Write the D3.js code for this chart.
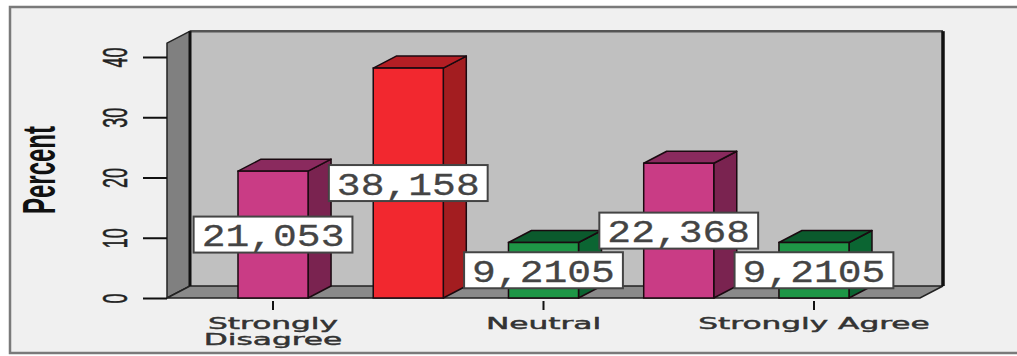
<!DOCTYPE html>
<html>
<head>
<meta charset="utf-8">
<script src="https://cdn.jsdelivr.net/npm/d3@7"></script>
<style>
  html, body { margin: 0; padding: 0; background: #ffffff; }
  svg { display: block; }
</style>
</head>
<body>
<svg id="chart" width="1017" height="356"></svg>
<script>
// Response categories and their share of respondents (%)
const categories = ["Strongly Disagree", "Disagree", "Neutral", "Agree", "Strongly Agree"];
const percents = [21.053, 38.158, 9.2105, 22.368, 9.2105];
// Categories labelled on the horizontal axis, with their line breaks
const axisCategories = ["Strongly Disagree", "Neutral", "Strongly Agree"];
const axisLabelLines = [["Strongly", "Disagree"], ["Neutral"], ["Strongly Agree"]];
const yTicks = [0, 10, 20, 30, 40];

// Bar colour sets: front, side, top
const palette = {
  magenta: ["#c93c85", "#7a2350", "#8a2a5e"],
  red:     ["#f2282f", "#a31d20", "#b41e24"],
  green:   ["#1e9646", "#0b6532", "#0b5a2d"]
};
const barColours = ["magenta", "red", "green", "magenta", "green"];

const svg = d3.select("#chart");

// decimal comma number format
const locale = d3.formatLocale({ decimal: ",", thousands: ".", grouping: [3], currency: ["", ""] });
const fmt = locale.format(".5r");

// outer panel
svg.append("rect").attr("x", 10).attr("y", 7).attr("width", 1040).attr("height", 346)
  .attr("fill", "#f0f0f0").attr("stroke", "#7a7a7a").attr("stroke-width", 2.5);

// scales (front plane)
const x = d3.scaleBand().domain(categories).range([167, 920])
  .paddingInner(0.482).paddingOuter(0.525);
const y = d3.scaleLinear().domain([0, 40]).range([298, 57]);
const yMax = 42.3;
const dx = 23, dy = -12;   // depth offset of the 3D box

const x0 = x.range()[0], x1 = x.range()[1];
const yb = y(0), yt = y(yMax);

const walls = svg.append("g");
// back wall
walls.append("rect").attr("x", x0 + dx).attr("y", yt + dy)
  .attr("width", x1 - x0).attr("height", yb - yt)
  .attr("fill", "#c0c0c0");
// left wall
walls.append("polygon")
  .attr("points", [[x0, yt], [x0 + dx, yt + dy], [x0 + dx, yb + dy], [x0, yb]].join(" "))
  .attr("fill", "#808080").attr("stroke", "#222").attr("stroke-width", 1.5);
// floor
walls.append("polygon")
  .attr("points", [[x0, yb], [x0 + dx, yb + dy], [x1 + dx, yb + dy], [x1, yb]].join(" "))
  .attr("fill", "#8a8a8a").attr("stroke", "#222").attr("stroke-width", 1.5);
// back wall edges
walls.append("line").attr("x1", x0 + dx).attr("x2", x1 + dx).attr("y1", yt + dy).attr("y2", yt + dy)
  .attr("stroke", "#555").attr("stroke-width", 2.5);
walls.append("line").attr("x1", x0 + dx).attr("x2", x0 + dx).attr("y1", yt + dy).attr("y2", yb + dy)
  .attr("stroke", "#111").attr("stroke-width", 3);
walls.append("line").attr("x1", x1 + dx).attr("x2", x1 + dx).attr("y1", yt + dy).attr("y2", yb + dy)
  .attr("stroke", "#111").attr("stroke-width", 3.5);

// y axis
const yAxis = svg.append("g").attr("transform", `translate(${x0},0)`)
  .call(d3.axisLeft(y).tickValues(yTicks).tickSize(24));
yAxis.select(".domain").remove();
yAxis.selectAll(".tick line").attr("stroke", "#111").attr("stroke-width", 2);
yAxis.selectAll(".tick text")
  .attr("x", null).attr("dy", null)
  .attr("text-anchor", "middle")
  .attr("transform", "translate(-40,0) scale(1.9,1) rotate(-90)")
  .attr("font-family", "'Liberation Sans', Arial, sans-serif")
  .attr("font-size", 18).attr("fill", "#222")
  .attr("stroke", "#222").attr("stroke-width", 0.3);

// y axis title
svg.append("text")
  .attr("transform", "translate(55,170) scale(1.9,1) rotate(-90)")
  .attr("text-anchor", "middle")
  .attr("font-family", "'Liberation Sans', Arial, sans-serif")
  .attr("font-weight", "bold").attr("font-size", 24).attr("fill", "#111")
  .text("Percent");

// x axis
const xAxis = svg.append("g").attr("transform", `translate(0,${yb + 3})`)
  .call(d3.axisBottom(x).tickValues(axisCategories).tickSize(9).tickFormat(""));
xAxis.select(".domain").remove();
xAxis.selectAll(".tick line").attr("stroke", "#111").attr("stroke-width", 2);
xAxis.selectAll(".tick").each(function (d, i) {
  const t = d3.select(this).append("text")
    .attr("transform", "translate(0,28) scale(1.95,1)")
    .attr("text-anchor", "middle")
    .attr("font-family", "'DejaVu Sans', Verdana, sans-serif")
    .attr("font-size", 16).attr("fill", "#333")
    .attr("stroke", "#333").attr("stroke-width", 0.45);
  axisLabelLines[i].forEach((line, j) => {
    t.append("tspan").attr("x", 0).attr("dy", j === 0 ? 0 : 16).text(line);
  });
});

// bars
const bars = svg.append("g").selectAll("g").data(categories).join("g");
bars.each(function (c, i) {
  const g = d3.select(this);
  const v = percents[i];
  const [front, side, top] = palette[barColours[i]];
  const xl = x(c), xr = x(c) + x.bandwidth(), yv = y(v);
  g.append("polygon")
    .attr("points", [[xr, yv], [xr + dx, yv + dy], [xr + dx, yb + dy], [xr, yb]].join(" "))
    .attr("fill", side).attr("stroke", "#1a0a10").attr("stroke-width", 1.5).attr("stroke-linejoin", "round");
  g.append("polygon")
    .attr("points", [[xl, yv], [xl + dx, yv + dy], [xr + dx, yv + dy], [xr, yv]].join(" "))
    .attr("fill", top).attr("stroke", "#1a0a10").attr("stroke-width", 1.5).attr("stroke-linejoin", "round");
  g.append("rect").attr("x", xl).attr("y", yv).attr("width", x.bandwidth()).attr("height", yb - yv)
    .attr("fill", front).attr("stroke", "#1a0a10").attr("stroke-width", 1.5);
});

// value labels at mid-height of each bar
const labels = svg.append("g").selectAll("g").data(categories).join("g")
  .attr("transform", (c, i) => `translate(${x(c) + x.bandwidth() / 2},${y(percents[i] / 2)})`);
const sx = 1.24;
labels.each(function (c, i) {
  const g = d3.select(this);
  const box = g.append("rect");
  const t = g.append("text")
    .attr("transform", `scale(${sx},1)`)
    .attr("text-anchor", "middle").attr("dy", "0.36em")
    .attr("font-family", "'Liberation Mono', 'Courier New', monospace")
    .attr("font-size", 32).attr("fill", "#444")
    .attr("stroke", "#444").attr("stroke-width", 0.3)
    .text(fmt(percents[i]));
  const w = t.node().getComputedTextLength() * sx + 16;
  const h = 36;
  box.attr("x", -w / 2).attr("y", -h / 2).attr("width", w).attr("height", h)
    .attr("fill", "#ffffff").attr("stroke", "#444").attr("stroke-width", 2);
});
</script>
</body>
</html>
